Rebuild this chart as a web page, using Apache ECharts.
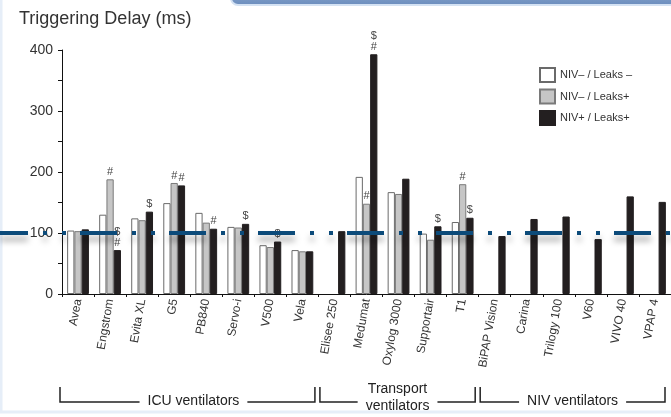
<!DOCTYPE html>
<html>
<head>
<meta charset="utf-8">
<script src="https://cdn.jsdelivr.net/npm/echarts@6/dist/echarts.min.js"></script>
<style>
html,body{margin:0;padding:0;background:#fff;}
#c{width:671px;height:417px;}
</style>
</head>
<body>
<div id="c"></div>
<script>
const categories = ['Avea','Engstrom','Evita XL','G5','PB840','Servo-i','V500','Vela','Elisee 250','Medumat','Oxylog 3000','Supportair','T1','BiPAP Vision','Carina','Trilogy 100','V60','VIVO 40','VPAP 4'];
const seriesNames = ['NIV\u2013 / Leaks \u2013','NIV\u2013 / Leaks+','NIV+ / Leaks+'];
const nivMinusLeaksMinus = [104,130,124,149,133,110,80,72,null,192,167,99,118,null,null,null,null,null,null];
const nivMinusLeaksPlus  = [103,188,121,182,117,109,77,70,null,148,164,89,180,null,null,null,null,null,null];
const nivPlusLeaksPlus   = [106,72,135,178,107,115,86,70,103,393,189,111,125,95,123,127,90,160,151];
const annMinusMinus = ['','','','','','','','','','','','','','','','','','',''];
const annMinusPlus  = ['','#','','#','','','','','','#','','','#','','','','','',''];
const annPlusPlus   = ['','$\n#','$','#','#','$','$','','','$\n#','','$','$','','','','','',''];
const groups = [
  {name:'ICU ventilators', from:0, to:7},
  {name:'Transport\nventilators', from:8, to:12},
  {name:'NIV ventilators', from:13, to:18}
];
const yTicks = [0,100,200,300,400];
const refValue = 100;

const FONT = 'Liberation Sans, Arial, Helvetica, sans-serif';
const fills = ['#ffffff','#c6c6c6','#231f20'];
const borders = ['#6a6a6a','#7a7a7a','#231f20'];
const values = [nivMinusLeaksMinus, nivMinusLeaksPlus, nivPlusLeaksPlus];
const anns = [annMinusMinus, annMinusPlus, annPlusPlus];

const chart = echarts.init(document.getElementById('c'), null, {renderer:'canvas'});
const option = {
  animation: false,
  backgroundColor: '#ffffff',
  textStyle: {fontFamily: FONT},
  title: {
    text: 'Triggering Delay (ms)', left: 14, top: 5,
    textStyle: {fontFamily: FONT, fontSize: 18, fontWeight: 'normal', color: '#333'}
  },
  legend: {
    orient: 'vertical', left: 534, top: 62,
    itemWidth: 15, itemHeight: 14, itemGap: 5.5,
    icon: 'rect',
    textStyle: {fontFamily: FONT, fontSize: 11, color: '#333', padding:[0,0,0,0]},
    data: seriesNames
  },
  grid: {left: 62, right: 0, top: 50, bottom: 123, containLabel: false},
  xAxis: {
    type: 'category', data: categories,
    axisLine: {lineStyle: {color: '#111', width: 1}},
    axisTick: {show: true, length: 3, lineStyle: {color: '#111'}},
    axisLabel: {rotate: 80, interval: 0, margin: 5, fontFamily: FONT, fontSize: 12, color: '#333'}
  },
  yAxis: {
    type: 'value', min: 0, max: 400, interval: 50,
    axisLine: {show: true, lineStyle: {color: '#111', width: 1}},
    axisTick: {show: true, length: 4, lineStyle: {color: '#111'}},
    splitLine: {show: false},
    axisLabel: {
      margin: 9, fontFamily: FONT, fontSize: 14, color: '#333',
      formatter: v => yTicks.indexOf(v) >= 0 ? String(v) : ''
    }
  },
  series: seriesNames.map((name, k) => ({
    name, type: 'bar',
    data: values[k],
    barGap: '0%', barCategoryGap: '32%',
    itemStyle: {color: fills[k], borderColor: borders[k], borderWidth: 1},
    label: {
      show: true, position: 'top', distance: 2,
      fontFamily: FONT, fontSize: 11, lineHeight: 11, color: '#444',
      formatter: p => anns[k][p.dataIndex] || ''
    }
  }))
};
chart.setOption(option);

// measure text width
const ctx = document.createElement('canvas').getContext('2d');
function tw(str, size){ ctx.font = size + 'px ' + FONT; return Math.max.apply(null, str.split('\n').map(s => ctx.measureText(s).width)); }

const yRef = chart.convertToPixel({yAxisIndex: 0}, refValue);
const c0 = chart.convertToPixel({xAxisIndex: 0}, categories[0]);
const c1 = chart.convertToPixel({xAxisIndex: 0}, categories[1]);
const band = c1 - c0;
const graphics = [];

// slide decorations
graphics.push({type:'rect', silent:true, z:0, shape:{x:1, y:-20, width:700, height:432}, style:{fill:'none', stroke:'#e6eef8', lineWidth:3}});
graphics.push({type:'rect', silent:true, z:50, shape:{x:231, y:-12, width:460, height:17, r:7},
  style:{fill:new echarts.graphic.LinearGradient(0,0,0,1,[{offset:0,color:'#8fabd2'},{offset:1,color:'#6a8cbc'}]), stroke:'#d4e2f3', lineWidth:2}});

// group brackets
const yTop = 387, yLine = 402;
groups.forEach((g, i) => {
  const left = chart.convertToPixel({xAxisIndex: 0}, categories[g.from]) - band/2;
  const right = chart.convertToPixel({xAxisIndex: 0}, categories[g.to]) + band/2;
  const x0 = i === 0 ? left - 2 : left + 1.5;
  const x1 = right - (i === groups.length - 1 ? 6 : 3.5);
  const mid = (x0 + x1) / 2 + (i === 0 ? 6 : 0);
  const w = tw(g.name, 14);
  const ls = {stroke:'#222', lineWidth:1.5};
  graphics.push({type:'polyline', silent:true, shape:{points:[[x0,yTop],[x0,yLine],[mid - w/2 - 8, yLine]]}, style:ls});
  graphics.push({type:'polyline', silent:true, shape:{points:[[mid + w/2 + 8, yLine],[x1,yLine],[x1,yTop]]}, style:ls});
  const multi = g.name.indexOf('\n') >= 0;
  graphics.push({type:'text', silent:true, x: mid, y: multi ? 398 : yLine - 1,
    style:{text:g.name, fontFamily:FONT, fontSize:14, fill:'#222', align:'center', verticalAlign:'middle', lineHeight:17}});
});

// reference line at 100
graphics.push({type:'line', silent:true, z:100,
  shape:{x1:0, y1:yRef, x2:671, y2:yRef},
  style:{stroke:'#0c4b7a', lineWidth:4, lineDash:[37,15,4,15,4,14], lineDashOffset:9,
    shadowColor:'rgba(0,0,0,0.35)', shadowBlur:6, shadowOffsetY:6}});

chart.setOption({graphic: graphics});
</script>
</body>
</html>
